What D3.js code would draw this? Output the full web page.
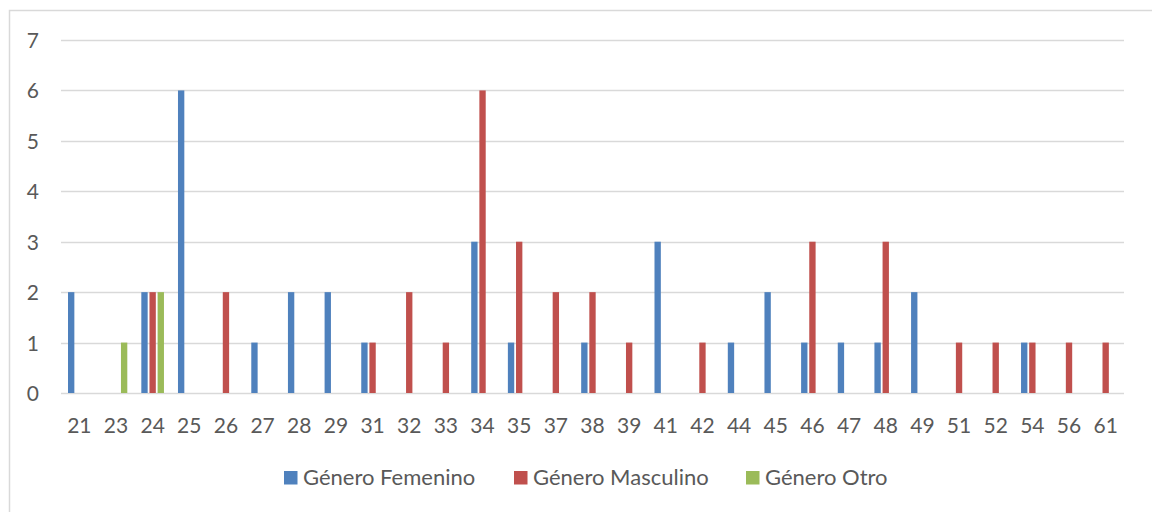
<!DOCTYPE html>
<html>
<head>
<meta charset="utf-8">
<script src="https://cdn.jsdelivr.net/npm/d3@7"></script>
<style>
  html, body { margin: 0; padding: 0; background: #fff; }
  svg { display: block; }
  text { font-family: Lato, "Open Sans", sans-serif; fill: #595959; }
</style>
</head>
<body>
<svg id="chart" width="1152" height="512"></svg>
<script>
// Ages (category axis)
const ages = ["21","23","24","25","26","27","28","29","31","32","33","34","35","37","38","39","41","42","44","45","46","47","48","49","51","52","54","56","61"];

// Counts per age for each gender
const femenino  = [2,0,2,6,0,1,2,2,1,0,0,3,1,0,1,0,3,0,1,2,1,1,1,2,0,0,1,0,0];
const masculino = [0,0,2,0,2,0,0,0,1,2,1,6,3,2,2,1,0,1,0,0,3,0,3,0,1,1,1,1,1];
const otro      = [0,1,2,0,0,0,0,0,0,0,0,0,0,0,0,0,0,0,0,0,0,0,0,0,0,0,0,0,0];

const seriesNames = ["Género Femenino", "Género Masculino", "Género Otro"];
const seriesColors = ["#4F81BD", "#C0504D", "#9BBB59"];
const yTicks = [0,1,2,3,4,5,6,7];

const series = [femenino, masculino, otro];

const svg = d3.select("#chart");
const plot = { left: 61, right: 1124, top: 40, bottom: 393 };

// Outer chart frame (only top and left edges fall inside the view)
svg.append("path")
  .attr("d", "M9.5,512 V10.5 H1152")
  .attr("fill", "none")
  .attr("stroke", "#D9D9D9")
  .attr("stroke-width", 1.5);

const x = d3.scaleBand()
  .domain(ages)
  .range([plot.left, plot.right])
  .paddingInner(1/3)
  .paddingOuter(1/6);

const xs = d3.scaleBand()
  .domain(d3.range(series.length))
  .range([0, x.bandwidth()]);

const y = d3.scaleLinear().domain([0, 7]).range([plot.bottom, plot.top]);

// Horizontal gridlines
svg.append("g")
  .selectAll("line")
  .data(yTicks)
  .join("line")
  .attr("x1", plot.left)
  .attr("x2", plot.right)
  .attr("y1", d => Math.round(y(d)) + 0.5)
  .attr("y2", d => Math.round(y(d)) + 0.5)
  .attr("stroke", "#D9D9D9")
  .attr("stroke-width", 1.3);

// Y axis labels
const yAxis = d3.axisLeft(y).tickValues(yTicks).tickFormat(d3.format("d")).tickSize(0).tickPadding(0);
svg.append("g")
  .attr("transform", `translate(${plot.left - 22},0)`)
  .call(yAxis)
  .call(g => g.select(".domain").remove())
  .call(g => g.selectAll("text")
    .attr("font-family", "Lato, sans-serif")
    .attr("font-size", 21)
    .attr("fill", "#595959")
    .attr("dy", "0.36em"));

// X axis labels
const xAxis = d3.axisBottom(x).tickSize(0).tickPadding(0);
svg.append("g")
  .attr("transform", `translate(0,${plot.bottom})`)
  .call(xAxis)
  .call(g => g.select(".domain").remove())
  .call(g => g.selectAll("text")
    .attr("font-family", "Lato, sans-serif")
    .attr("font-size", 21)
    .attr("fill", "#595959")
    .attr("y", 39.5)
    .attr("dy", "0"));

// Bars
const gap = 0.9;
series.forEach((vals, si) => {
  svg.append("g")
    .selectAll("rect")
    .data(vals.map((v, i) => ({ age: ages[i], v })).filter(d => d.v > 0))
    .join("rect")
    .attr("x", d => x(d.age) + xs(si) + gap)
    .attr("width", xs.bandwidth() - 2 * gap)
    .attr("y", d => y(d.v))
    .attr("height", d => y(0) - y(d.v))
    .attr("fill", seriesColors[si]);
});

// Legend
const legendX = [284, 514, 746];
const legend = svg.append("g");
seriesNames.forEach((name, i) => {
  legend.append("rect")
    .attr("x", legendX[i]).attr("y", 471)
    .attr("width", 13.5).attr("height", 13.5)
    .attr("fill", seriesColors[i]);
  legend.append("text")
    .attr("x", legendX[i] + 19).attr("y", 485)
    .attr("font-size", 22)
    .text(name);
});
</script>
</body>
</html>
